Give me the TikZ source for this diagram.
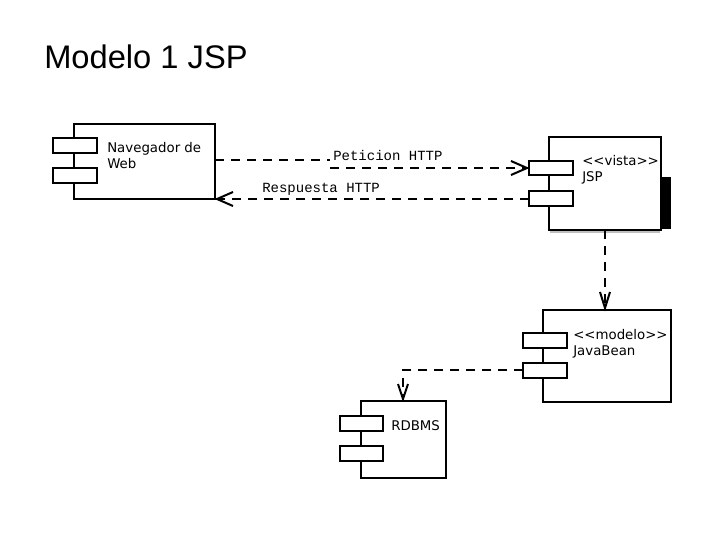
\documentclass[tikz,border=0pt]{standalone}
\usepackage{fontspec}
\setmainfont{Liberation Sans}
\newfontfamily\dv{DejaVu Sans}
\newfontfamily\mono{Liberation Mono}
\begin{document}
\begin{tikzpicture}[x=0.75pt,y=-0.75pt,
  body/.style={draw,line width=1.5pt,fill=white},
  port/.style={draw,line width=1.5pt,fill=white},
  dep/.style={line width=1.5pt,dash pattern=on 7pt off 5pt},
  tip/.style={line width=1.5pt},
  lbl/.style={font=\dv\fontsize{10}{12}\selectfont,anchor=north west,inner sep=0pt,align=left},
  mlbl/.style={font=\mono\fontsize{10.5}{12}\selectfont,anchor=base west,inner sep=0pt}]
\useasboundingbox (0,0) rectangle (720,540);
\node[anchor=base west,inner sep=0pt,font=\fontsize{24.5}{28}\selectfont] (title) at (44,68) {Modelo 1 JSP};
% Navegador
\draw[body] (74,124) rectangle (215,199);
\draw[port] (53,138) rectangle (97,153);
\draw[port] (53,168) rectangle (97,183);
\node[lbl] (nav) at (107,142) {Navegador de\\Web};
% JSP
\fill[black] (660,177) rectangle (671,229);
\draw[gray!50,line width=1pt] (551,139) -- (551,232) -- (660,232);
\draw[body] (549,137) rectangle (661,230);
\draw[port] (529,161) rectangle (573,175);
\draw[port] (529,191) rectangle (573,206);
\node[lbl] (jsp) at (582,155) {<<vista>>\\JSP};
% JavaBean
\draw[body] (543,310) rectangle (671,402);
\draw[port] (523,333) rectangle (567,348);
\draw[port] (523,363) rectangle (567,378);
\node[lbl] (jb) at (573,329) {<<modelo>>\\JavaBean};
% RDBMS
\draw[body] (361,401) rectangle (446,478);
\draw[port] (340,416) rectangle (383,431);
\draw[port] (340,446) rectangle (383,461);
\node[lbl] (db) at (391,420) {RDBMS};
% Peticion
\draw[dep] (215,160) -- (330,160);
\draw[dep] (330,168) -- (529,168);
\draw[tip] (511,161) -- (527,168) -- (511,175);
\node[mlbl] (pet) at (333,160) {Peticion HTTP};
% Respuesta
\draw[dep] (529,199) -- (217,199);
\draw[tip] (233,192) -- (217,199) -- (233,206);
\node[mlbl] (resp) at (262,192) {Respuesta HTTP};
% JSP -> JavaBean
\draw[dep] (605,230) -- (605,308);
\draw[tip] (600,292) -- (605,308) -- (610,292);
% JavaBean -> RDBMS
\draw[dep] (523,370) -- (403,370) -- (403,399);
\draw[tip] (398,384) -- (403,399) -- (408,384);
\end{tikzpicture}
\end{document}
